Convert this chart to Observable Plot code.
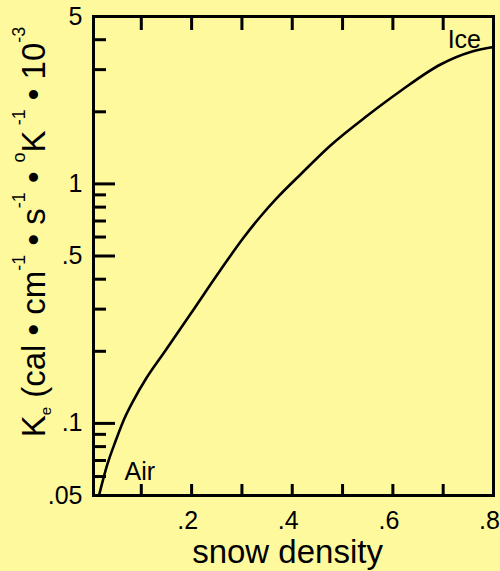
<!DOCTYPE html>
<html>
<head>
<meta charset="utf-8">
<script src="https://cdn.jsdelivr.net/npm/d3@7"></script>
<script src="https://cdn.jsdelivr.net/npm/@observablehq/plot@0.6"></script>
<style>
  html, body { margin: 0; padding: 0; background: #fff99e; overflow: hidden; }
  #chart svg { display: block; }
</style>
</head>
<body>
<div id="chart"></div>
<script>
// --- data ---
const density = [0.0159, 0.0328, 0.0493, 0.066, 0.0859, 0.109, 0.1481, 0.1978, 0.2574, 0.3031, 0.3369, 0.3707, 0.4164, 0.476, 0.5496, 0.6152, 0.6947, 0.7543, 0.80];
const conductivity = [0.05, 0.0677, 0.0848, 0.1043, 0.1264, 0.1532, 0.2015, 0.2862, 0.437, 0.5956, 0.731, 0.8777, 1.0948, 1.447, 1.93, 2.443, 3.152, 3.554, 3.728];

const xTickValues = [0.2, 0.4, 0.6, 0.8];
const xTickLabels = [".2", ".4", ".6", ".8"];
const xMinorTicks = [0.1, 0.2, 0.3, 0.4, 0.5, 0.6, 0.7];
const yTickValues = [5, 1, 0.5, 0.1, 0.05];
const yTickLabels = ["5", "1", ".5", ".1", ".05"];
const yMajorTicks = [1, 0.5, 0.1];
const yMinorTicks = [4, 3, 2, 0.9, 0.8, 0.7, 0.6, 0.4, 0.3, 0.2, 0.09, 0.08, 0.07, 0.06];

const annotationText = ["Air", "Ice"];
const annotationX = [0.097, 0.742];
const annotationY = [0.0578, 3.71];

const xLabel = "snow density";
// y label pieces: [text, role]
const yLabelParts = [
  ["K", "n"], ["e", "sub"], [" (cal \u2022 cm", "n"], ["-1", "sup"], [" \u2022 s", "n"], ["-1", "sup"],
  [" \u2022 ", "n"], ["o", "sup"], ["K", "n"], [" -1", "sup"], [" \u2022 10", "n"], ["-3", "sup"]
];

const curve = density.map((d, i) => ({density: d, k: conductivity[i]}));
const notes = annotationText.map((t, i) => ({t, x: annotationX[i], y: annotationY[i]}));
const fmtY = d => yTickLabels[yTickValues.indexOf(d)];
const fmtX = d => xTickLabels[xTickValues.indexOf(d)];
const blank = () => "";
const font = "'Liberation Sans', Arial, sans-serif";

const plot = Plot.plot({
  width: 500,
  height: 571,
  marginLeft: 93,
  marginRight: 7,
  marginTop: 16,
  marginBottom: 76,
  style: {background: "#fff99e", fontFamily: font, color: "black"},
  x: {domain: [0.005, 0.8], label: null},
  y: {type: "log", domain: [0.05, 5], label: null},
  marks: [
    // inward ticks
    Plot.axisX(xMinorTicks, {anchor: "bottom", tickSize: -11, strokeWidth: 3, tickFormat: blank, label: null}),
    Plot.axisX(xMinorTicks, {anchor: "top", tickSize: -13, strokeWidth: 3, tickFormat: blank, label: null}),
    Plot.axisY(yMinorTicks, {anchor: "left", tickSize: -13, strokeWidth: 3, tickFormat: blank, label: null}),
    Plot.axisY(yMajorTicks, {anchor: "left", tickSize: -22, strokeWidth: 3, tickFormat: blank, label: null}),
    // tick labels
    Plot.axisX(xTickValues, {anchor: "bottom", tickSize: 0, tickPadding: 16, dx: -4, tickFormat: fmtX, fontSize: 25, label: null}),
    Plot.axisY(yTickValues, {anchor: "left", tickSize: 0, tickPadding: 11, tickFormat: fmtY, fontSize: 25, label: null}),
    Plot.frame({stroke: "black", strokeWidth: 3}),
    Plot.line(curve, {x: "density", y: "k", stroke: "black", strokeWidth: 2.6, curve: "monotone-x"}),
    Plot.text(notes, {x: "x", y: "y", text: "t", fontSize: 25, lineAnchor: "bottom", fill: "black"}),
    Plot.text([xLabel], {frameAnchor: "bottom", dx: -6, dy: 67, lineAnchor: "bottom", fontSize: 33, fill: "black", style: {letterSpacing: "2.4px"}})
  ]
});

document.getElementById("chart").append(plot);

// rich y-axis title with sub/superscripts
const svg = d3.select(plot);
const t = svg.append("text")
  .attr("transform", "translate(45,232) rotate(-90)")
  .attr("text-anchor", "middle")
  .attr("font-family", font)
  .attr("fill", "black");
let shift = 0;
for (const [s, role] of yLabelParts) {
  const target = role === "sup" ? -20 : role === "sub" ? 6 : 0;
  t.append("tspan")
    .attr("dy", target - shift)
    .attr("font-size", role === "n" ? 33 : role === "sub" ? 15 : 18)
    .text(s);
  shift = target;
}
</script>
</body>
</html>
